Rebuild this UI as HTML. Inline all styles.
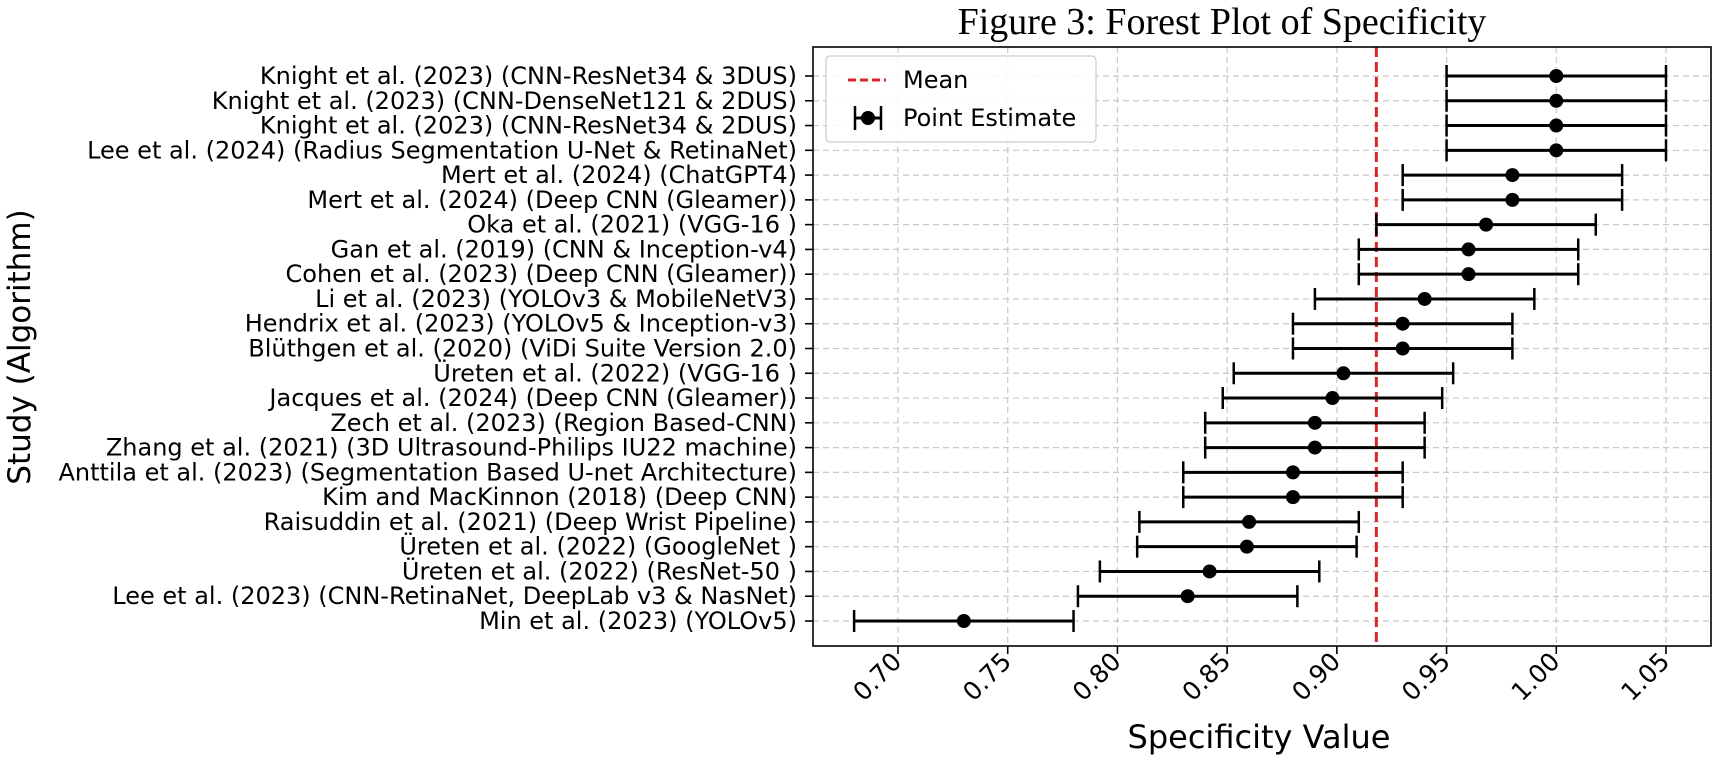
<!DOCTYPE html>
<html><head><meta charset="utf-8"><style>
html,body{margin:0;padding:0;background:#fff;}
svg{display:block;font-family:"DejaVu Sans","Liberation Sans",sans-serif;}
</style></head><body>
<svg id="chart" width="1713" height="765" viewBox="0 0 1713 765" xmlns="http://www.w3.org/2000/svg">
<text x="1222" y="34" text-anchor="middle" font-family="Liberation Serif, serif" font-size="38" fill="#000">Figure 3: Forest Plot of Specificity</text>
<g id="grid"></g>
<g id="marks"></g>
<rect x="813" y="47" width="898" height="599" fill="none" stroke="#000" stroke-width="1.6"/>
<g id="yaxis"></g>
<g id="xaxis"></g>
<text transform="translate(30,347) rotate(-90)" text-anchor="middle" font-size="31" fill="#000">Study (Algorithm)</text>
<text x="1259" y="748" text-anchor="middle" font-size="32" fill="#000">Specificity Value</text>
<g>
<rect x="826" y="56" width="270" height="86" rx="4" fill="#fff" fill-opacity="0.85" stroke="#ccc" stroke-width="1.2"/>
<line x1="848" y1="80" x2="886" y2="80" stroke="#d62728" stroke-width="3" stroke-dasharray="8,4"/>
<text x="903" y="88" font-size="24" fill="#000">Mean</text>
<g>
<line x1="855" y1="118" x2="881" y2="118" stroke="#000" stroke-width="3"/>
<line x1="855" y1="106" x2="855" y2="130" stroke="#000" stroke-width="2.5"/>
<line x1="881" y1="106" x2="881" y2="130" stroke="#000" stroke-width="2.5"/>
<circle cx="868" cy="118" r="7" fill="#000"/>
</g>
<text x="903" y="126" font-size="24" fill="#000">Point Estimate</text>
</g>
</svg>
<script>
const studies = ["Knight et al. (2023) (CNN-ResNet34 & 3DUS)","Knight et al. (2023) (CNN-DenseNet121 & 2DUS)","Knight et al. (2023) (CNN-ResNet34 & 2DUS)","Lee et al. (2024) (Radius Segmentation U-Net & RetinaNet)","Mert et al. (2024) (ChatGPT4)","Mert et al. (2024) (Deep CNN (Gleamer))","Oka et al. (2021) (VGG-16  )","Gan et al. (2019) (CNN & Inception-v4)","Cohen et al. (2023) (Deep CNN (Gleamer))","Li et al. (2023) (YOLOv3 & MobileNetV3)","Hendrix et al. (2023) (YOLOv5 & Inception-v3)","Blüthgen et al. (2020) (ViDi Suite Version 2.0)","Üreten et al. (2022) (VGG-16  )","Jacques et al. (2024) (Deep CNN (Gleamer))","Zech et al. (2023) (Region Based-CNN)","Zhang et al. (2021) (3D Ultrasound-Philips IU22 machine)","Anttila et al. (2023) (Segmentation Based U-net Architecture)","Kim and MacKinnon (2018) (Deep CNN)","Raisuddin et al. (2021) (Deep Wrist Pipeline)","Üreten et al. (2022) (GoogleNet )","Üreten et al. (2022) (ResNet-50 )","Lee et al. (2023) (CNN-RetinaNet, DeepLab v3 & NasNet)","Min et al. (2023) (YOLOv5)"];
const estimates = [1.00,1.00,1.00,1.00,0.98,0.98,0.968,0.960,0.960,0.940,0.930,0.930,0.903,0.898,0.890,0.890,0.880,0.880,0.860,0.859,0.842,0.832,0.730];
const lower = [0.95,0.95,0.95,0.95,0.93,0.93,0.918,0.910,0.910,0.890,0.880,0.880,0.853,0.848,0.840,0.840,0.830,0.830,0.810,0.809,0.792,0.782,0.680];
const upper = [1.05,1.05,1.05,1.05,1.03,1.03,1.018,1.010,1.010,0.990,0.980,0.980,0.953,0.948,0.940,0.940,0.930,0.930,0.910,0.909,0.892,0.882,0.780];
const meanValue = [0.918];
const xTicks = [0.70,0.75,0.80,0.85,0.90,0.95,1.00,1.05];
const xTickLabels = ["0.70","0.75","0.80","0.85","0.90","0.95","1.00","1.05"];

const NS="http://www.w3.org/2000/svg";
const X0=898, X1=1666, V0=0.70, V1=1.05;
function xs(v){return X0+(v-V0)*(X1-X0)/(V1-V0);}
const YT=76, YB=621;
function ys(i){return YT+i*(YB-YT)/(studies.length-1);}
function mk(tag,attrs,parent){const e=document.createElementNS(NS,tag);for(const k in attrs)e.setAttribute(k,attrs[k]);parent.appendChild(e);return e;}
const grid=document.getElementById('grid'),marks=document.getElementById('marks'),yaxis=document.getElementById('yaxis'),xaxis=document.getElementById('xaxis');

xTicks.forEach((t,i)=>{
  const x=xs(t);
  const g=mk('line',{x1:x,y1:47,x2:x,y2:646,stroke:'#c8c8c8','stroke-width':1.2,'stroke-dasharray':'6,4'},grid);
  
  
  const tk=mk('line',{x1:x,y1:646,x2:x,y2:654,stroke:'#000','stroke-width':1.6},xaxis);
  
  
  const tl=mk('text',{transform:`translate(${x+5},${663}) rotate(-45)`,'text-anchor':'end','font-size':25,fill:'#000'},xaxis);
  tl.textContent=xTickLabels[i];
  
  
});
studies.forEach((s,i)=>{
  const y=ys(i);
  const g=mk('line',{x1:813,y1:y,x2:1711,y2:y,stroke:'#c8c8c8','stroke-width':1.2,'stroke-dasharray':'6,4'},grid);
  
  
  const tk=mk('line',{x1:805,y1:y,x2:813,y2:y,stroke:'#000','stroke-width':1.6},yaxis);
  
  
  const tl=mk('text',{x:797,y:y+8,'text-anchor':'end','font-size':24,fill:'#000'},yaxis);
  tl.textContent=s;
  
  
});
const ml=mk('line',{x1:xs(meanValue[0]),y1:47,x2:xs(meanValue[0]),y2:646,stroke:'#d62728','stroke-width':3,'stroke-dasharray':'10,5'},marks);


studies.forEach((s,i)=>{
  const y=ys(i);
  const g=mk('g',{},marks);
  
  
  mk('line',{x1:xs(lower[i]),y1:y,x2:xs(upper[i]),y2:y,stroke:'#000','stroke-width':3},g);
  mk('line',{x1:xs(lower[i]),y1:y-11,x2:xs(lower[i]),y2:y+11,stroke:'#000','stroke-width':2.5},g);
  mk('line',{x1:xs(upper[i]),y1:y-11,x2:xs(upper[i]),y2:y+11,stroke:'#000','stroke-width':2.5},g);
  mk('circle',{cx:xs(estimates[i]),cy:y,r:7,fill:'#000'},g);
});
</script>
</body></html>
